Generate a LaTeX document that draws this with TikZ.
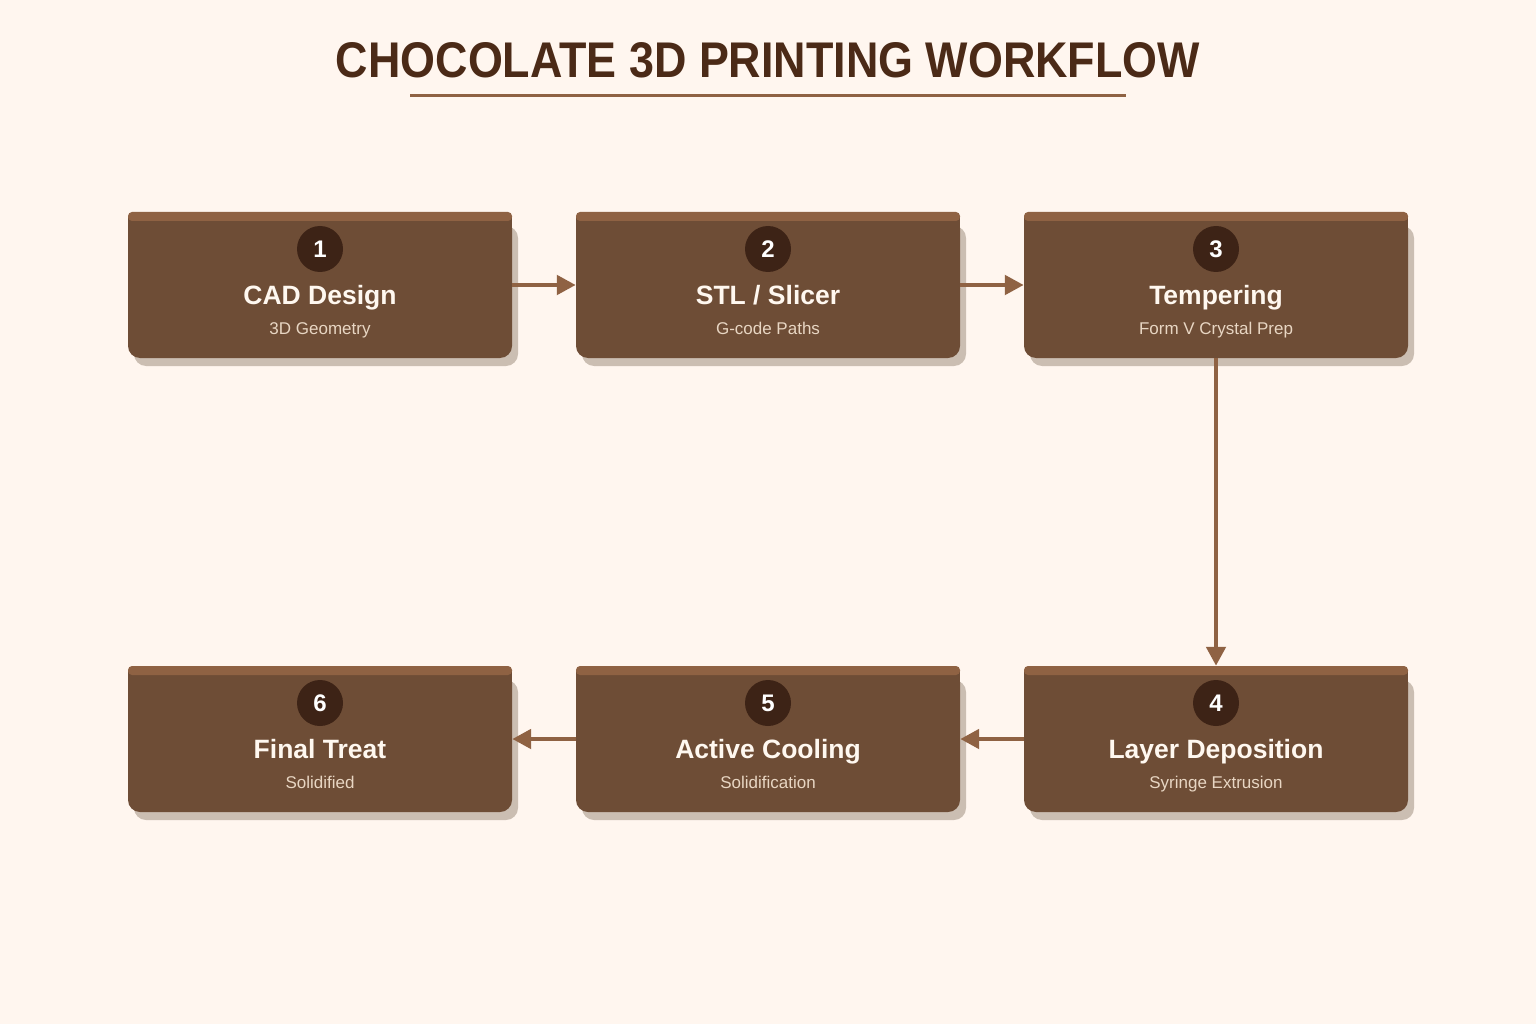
\documentclass[tikz,border=0pt]{standalone}
\usepackage{fontspec}
\setmainfont{Liberation Sans}
\usetikzlibrary{arrows.meta}
\definecolor{bgc}{HTML}{FFF6EF}
\definecolor{cardbodyc}{HTML}{6E4D36}
\definecolor{cardbarc}{HTML}{8F6243}
\definecolor{badgec}{HTML}{3D2316}
\definecolor{shadowc}{HTML}{CBBEB2}
\definecolor{titlec}{HTML}{4B2A17}
\definecolor{wtext}{HTML}{FFF8F0}
\definecolor{stext}{HTML}{E8D6C3}
\tikzset{
  cardbox/.style={minimum width=384pt, minimum height=146pt, inner sep=0pt, draw=none},
  badge/.style={circle, fill=badgec, minimum size=46pt, inner sep=0pt, text=white, font=\fontsize{24}{26}\selectfont\bfseries},
  cardtitle/.style={anchor=base, inner sep=0pt, text=wtext, font=\fontsize{26.5}{30}\selectfont\bfseries},
  cardsub/.style={anchor=base, inner sep=0pt, text=stext, font=\fontsize{17}{20}\selectfont},
  flow/.style={draw=cardbarc, line width=4.8pt, -{Triangle[length=19pt,width=19pt]}},
}
\newcommand\stepcard[6]{%
  \fill[shadowc,rounded corners=12pt] ({#2-192+6},{#3+14}) rectangle ({#2+192+6},{#3+154});
  \fill[cardbodyc,rounded corners=12pt] ({#2-192},{#3+4}) rectangle ({#2+192},{#3+146});
  \fill[cardbodyc] ({#2-192},{#3+4}) rectangle ({#2+192},{#3+30});
  \fill[cardbarc,rounded corners=4pt] ({#2-192},{#3}) rectangle ({#2+192},{#3+9});
  \node[cardbox] (#1) at (#2,{#3+73}) {};
  \node[badge] (#1n) at (#2,{#3+37}) {#4};
  \node[cardtitle] (#1t) at (#2,{#3+92}) {#5};
  \node[cardsub] (#1s) at (#2,{#3+122}) {#6};
}
\begin{document}
\begin{tikzpicture}[x=1pt,y=-1pt]
  \useasboundingbox (0,0) rectangle (1536,1024);
  \fill[bgc] (0,0) rectangle (1536,1024);
  \node[inner sep=0pt, text=titlec] (title) at (768,60)
    {\resizebox{864pt}{35pt}{\bfseries CHOCOLATE 3D PRINTING WORKFLOW}};
  \draw[cardbarc, line width=3pt] (410,96) -- (1126,96);
  \stepcard{b1}{320}{212}{1}{CAD Design}{3D Geometry}
  \stepcard{b2}{768}{212}{2}{STL / Slicer}{G-code Paths}
  \stepcard{b3}{1216}{212}{3}{Tempering}{Form V Crystal Prep}
  \stepcard{b4}{1216}{666}{4}{Layer Deposition}{Syringe Extrusion}
  \stepcard{b5}{768}{666}{5}{Active Cooling}{Solidification}
  \stepcard{b6}{320}{666}{6}{Final Treat}{Solidified}
  \draw[flow] (b1.east) -- (b2.west);
  \draw[flow] (b2.east) -- (b3.west);
  \draw[flow] (b3.south) -- (b4.north);
  \draw[flow] (b4.west) -- (b5.east);
  \draw[flow] (b5.west) -- (b6.east);
\end{tikzpicture}
\end{document}
